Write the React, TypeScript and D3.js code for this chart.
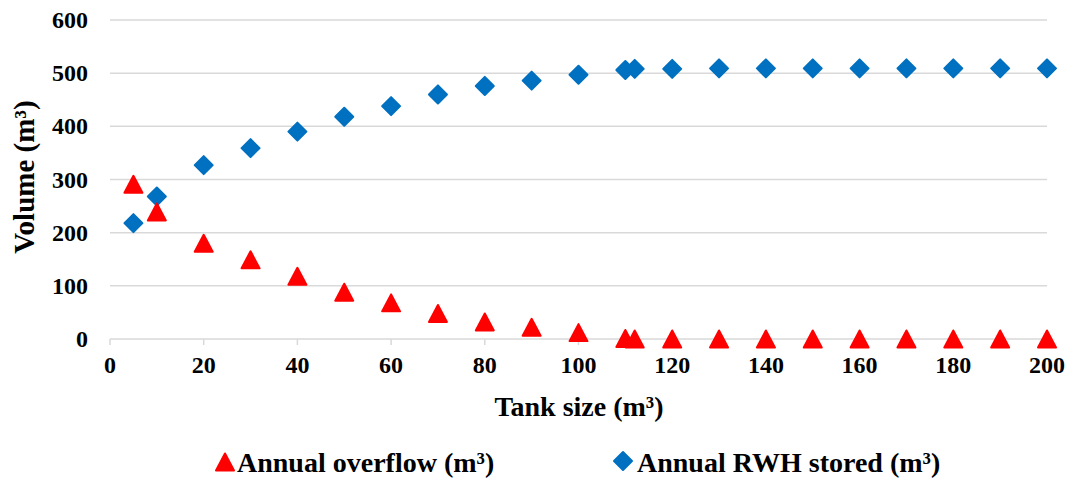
import React from "react";
import * as d3 from "d3";

const tankSize = [5, 10, 20, 30, 40, 50, 60, 70, 80, 90, 100, 110, 112, 120, 130, 140, 150, 160, 170, 180, 190, 200];
const annualOverflow = [291, 239, 180, 149, 118, 88, 68, 48, 32, 22, 12, 1, 0, 0, 0, 0, 0, 0, 0, 0, 0, 0];
const annualStored = [218, 268, 327, 359, 390, 418, 438, 460, 476, 486, 497, 506, 508, 508, 509, 509, 509, 509, 509, 509, 509, 509];
const xTicks = [0, 20, 40, 60, 80, 100, 120, 140, 160, 180, 200];
const yTicks = [0, 100, 200, 300, 400, 500, 600];
const seriesNames = ["Annual overflow (m³)", "Annual RWH stored (m³)"];

const W = 1068;
const H = 478;
const FONT = "'Liberation Serif', 'Times New Roman', serif";
const RED = "#ff0000";
const BLUE = "#0070c0";

function trianglePath(cx: number, cy: number) {
  return `M${cx},${cy - 8.5}L${cx + 9},${cy + 8.5}L${cx - 9},${cy + 8.5}Z`;
}
function diamondPath(cx: number, cy: number) {
  return `M${cx},${cy - 9}L${cx + 9},${cy}L${cx},${cy + 9}L${cx - 9},${cy}Z`;
}

export default function App() {
  const x = d3.scaleLinear().domain([0, 200]).range([110, 1047]);
  const y = d3.scaleLinear().domain([0, 600]).range([339, 20]);

  return (
    <svg
      width={W}
      height={H}
      viewBox={`0 0 ${W} ${H}`}
      style={{ position: "absolute", left: 0, top: 0, background: "#fff" }}
      fontFamily={FONT}
    >
      {/* gridlines */}
      {yTicks.map((t) => (
        <line key={"g" + t} x1={x(0)} x2={x(200)} y1={y(t)} y2={y(t)} stroke="#d9d9d9" strokeWidth={1.5} />
      ))}
      {/* x tick marks */}
      {xTicks.map((t) => (
        <line key={"tm" + t} x1={x(t)} x2={x(t)} y1={y(0)} y2={y(0) + 6} stroke="#d9d9d9" strokeWidth={1.5} />
      ))}
      {/* y tick labels */}
      {yTicks.map((t) => (
        <text key={"yl" + t} x={88} y={y(t) + 8} textAnchor="end" fontSize={24} fontWeight="bold" fill="#000">
          {t}
        </text>
      ))}
      {/* x tick labels */}
      {xTicks.map((t) => (
        <text key={"xl" + t} x={x(t)} y={373} textAnchor="middle" fontSize={24} fontWeight="bold" fill="#000">
          {t}
        </text>
      ))}
      {/* axis titles */}
      <text x={579} y={416} textAnchor="middle" fontSize={28} fontWeight="bold" fill="#000">
        Tank size (m³)
      </text>
      <text
        transform={`translate(34,177) rotate(-90)`}
        textAnchor="middle"
        fontSize={29}
        fontWeight="bold"
        fill="#000"
      >
        Volume (m³)
      </text>
      {/* series: stored */}
      {tankSize.map((t, i) => (
        <path
          key={"s" + i}
          d={diamondPath(x(t), y(annualStored[i]))}
          fill={BLUE}
          stroke={BLUE}
          strokeWidth={2}
          strokeLinejoin="round"
        />
      ))}
      {/* series: overflow */}
      {tankSize.map((t, i) => (
        <path
          key={"o" + i}
          d={trianglePath(x(t), y(annualOverflow[i]))}
          fill={RED}
          stroke={RED}
          strokeWidth={2}
          strokeLinejoin="round"
        />
      ))}
      {/* legend */}
      <path d={trianglePath(225, 462)} fill={RED} stroke={RED} strokeWidth={2} strokeLinejoin="round" />
      <text x={237} y={472} fontSize={28} fontWeight="bold" fill="#000">
        {seriesNames[0]}
      </text>
      <path d={diamondPath(623, 461)} fill={BLUE} stroke={BLUE} strokeWidth={2} strokeLinejoin="round" />
      <text x={637} y={472} fontSize={28} fontWeight="bold" fill="#000">
        {seriesNames[1]}
      </text>
    </svg>
  );
}
